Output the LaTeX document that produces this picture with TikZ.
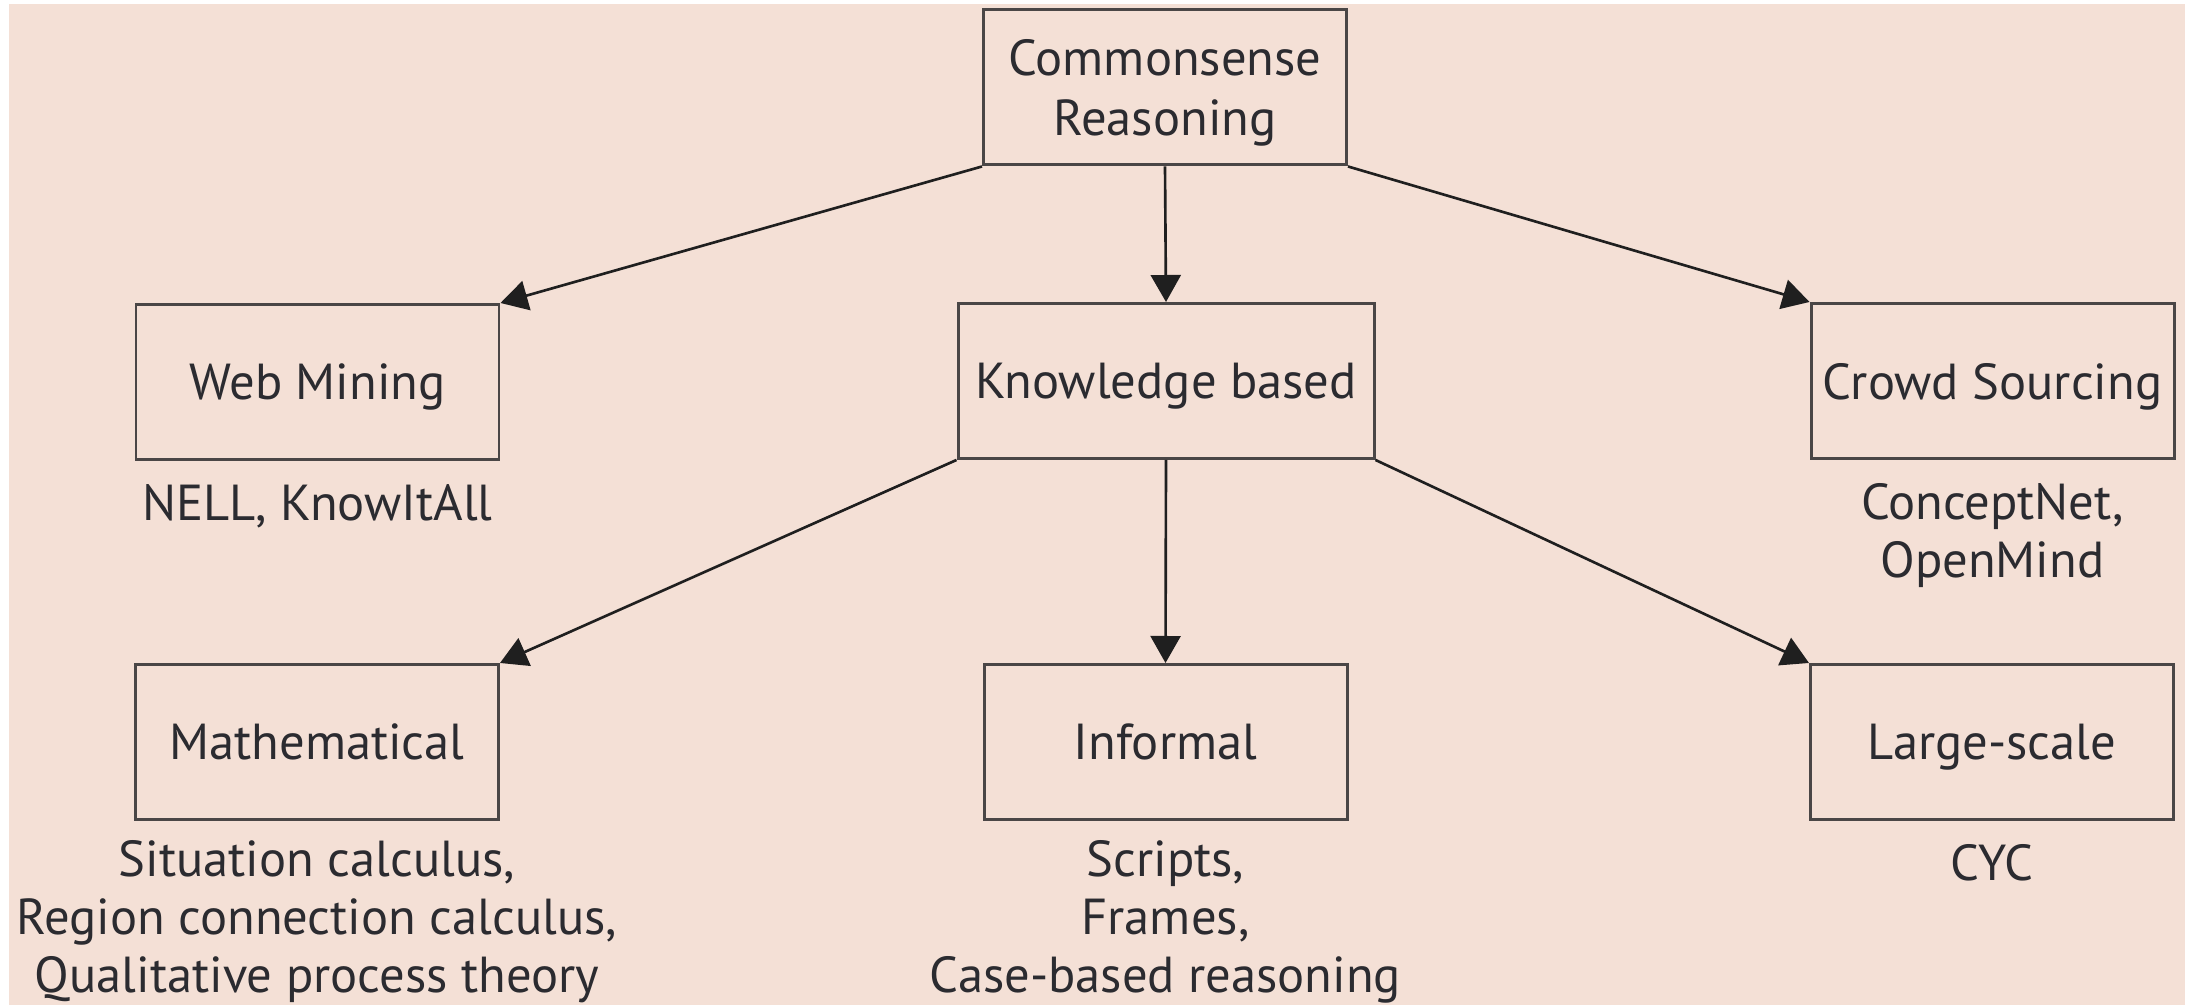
\documentclass[tikz,border=0pt]{standalone}
\usepackage{fontspec}
\setmainfont{PT Sans}
\usetikzlibrary{arrows.meta,positioning}
\definecolor{paper}{HTML}{F4E0D6}
\definecolor{ink}{HTML}{2B2B30}
\definecolor{frame}{HTML}{4A4646}
\tikzset{
  catbox/.style={
    draw=frame,
    line width=0.85pt,
    fill=paper,
    align=center,
    text=ink,
    font=\fontsize{14.4}{16.9}\selectfont,
    inner sep=0pt,
    text depth=0pt,
    minimum width=3.63cm,
    minimum height=1.55cm
  },
  examples/.style={align=center, text=ink, font=\fontsize{14.4}{16.4}\selectfont, inner sep=0pt},
  treeedge/.style={line width=0.75pt, draw=black!88, -{Triangle[length=2.7mm, width=3mm]}}
}

\begin{document}
\begin{tikzpicture}[x=1cm,y=1cm]
\useasboundingbox (0,0) rectangle (21.96,10.05);
\fill[white] (0,0) rectangle (21.96,10.05);
\fill[paper] (0.09,0) rectangle (21.85,10.01);

\node[catbox] (root) at (11.65,9.175) {Commonsense\\Reasoning};

\node[catbox] (web) at (3.175,6.23) {Web Mining};
\node[catbox, minimum width=4.16cm] (know) at (11.66,6.24) {Knowledge based};
\node[catbox] (crowd) at (19.925,6.24) {Crowd Sourcing};

\node[catbox] (math) at (3.17,2.63) {Mathematical};
\node[catbox] (informal) at (11.655,2.63) {Informal};
\node[catbox] (large) at (19.92,2.63) {Large-scale};

% example systems under each box
\node[examples, below=2.3mm of web] (webex) {NELL, KnowItAll};
\node[examples, below=2.3mm of crowd] (crowdex) {ConceptNet,\\OpenMind};
\node[examples, below=1.9mm of math] (mathex) {Situation calculus,\\Region connection calculus,\\Qualitative process theory};
\node[examples, below=1.9mm of informal] (informalex) {Scripts,\\Frames,\\Case-based reasoning};
\node[examples, below=2.3mm of large] (largeex) {CYC};

\draw[treeedge] (root.south west) -- (web.north east);
\draw[treeedge] (root.south) -- (know.north);
\draw[treeedge] (root.south east) -- (crowd.north west);
\draw[treeedge] (know.south west) -- (math.north east);
\draw[treeedge] (know.south) -- (informal.north);
\draw[treeedge] (know.south east) -- (large.north west);

\end{tikzpicture}
\end{document}
